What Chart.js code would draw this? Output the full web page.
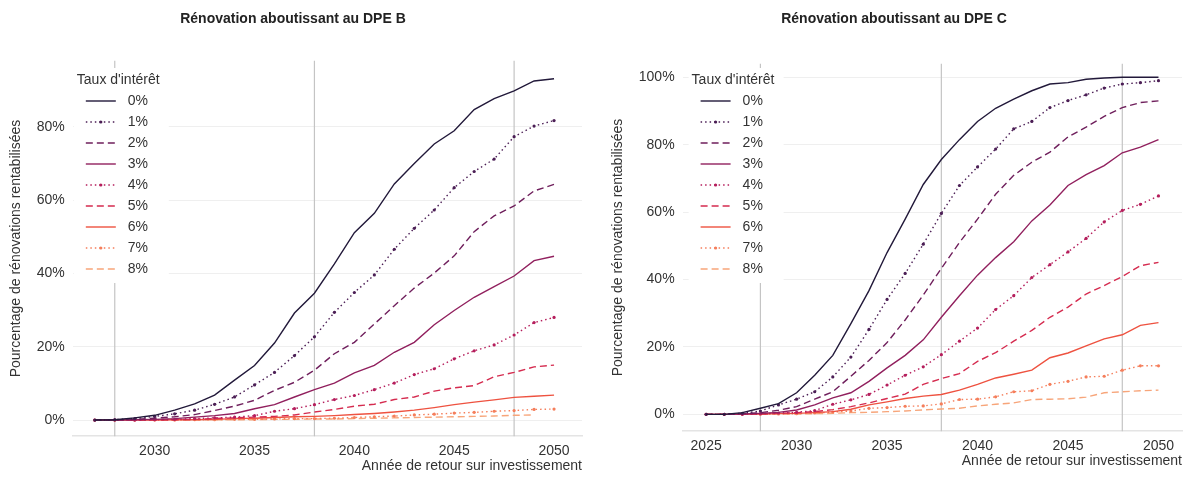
<!DOCTYPE html>
<html><head><meta charset="utf-8">
<script src="https://cdn.jsdelivr.net/npm/chart.js@4"></script>
<style>
body{margin:0;background:#fff;width:1192px;height:479px;position:relative;overflow:hidden;font-family:"Liberation Sans",Arial,sans-serif}
.w{position:absolute;top:0;height:479px}
</style></head><body>
<div class="w" style="left:0;width:596px"><canvas id="c1"></canvas></div>
<div class="w" style="left:598px;width:594px"><canvas id="c2"></canvas></div>
<script>
const labels=["0%","1%","2%","3%","4%","5%","6%","7%","8%"];
const colors=["#22193a","#4b1e55","#6f1f5c","#91205e","#b51e5c","#d52b4f","#ee5240","#f57e5b","#f7a57a"];
const dashes=[[],[1.5,3],[7,4],[],[1.5,3],[7,4],[],[1.5,3],[7,4]];
const dotted=[false,true,false,false,true,false,false,true,false];
const yearsB=[2027,2028,2029,2030,2031,2032,2033,2034,2035,2036,2037,2038,2039,2040,2041,2042,2043,2044,2045,2046,2047,2048,2049,2050];
const dpeB=[
[0,0.1,0.6,1.3,2.7,4.4,6.8,10.9,14.9,21,29.2,34.6,42.6,51.1,56.4,64.4,70,75.3,78.9,84.7,87.7,89.8,92.5,93.1],
[0,0.1,0.4,1,1.7,2.7,4.3,6.3,9.6,13,17.6,22.7,29.4,34.8,39.6,46.6,52.3,57.3,63.4,67.8,71.2,77.3,80.2,81.7],
[0,0,0.2,0.5,0.9,1.5,2.6,3.8,5.4,8.1,10.3,13.6,18.1,21.2,26.2,31.2,36,40.1,44.8,51.4,55.7,58.4,62.5,64.3],
[0,0,0.1,0.2,0.4,0.8,1.2,1.8,3.1,4.2,6.3,8.3,10.1,12.9,14.9,18.5,21.2,26,29.9,33.5,36.4,39.3,43.5,44.7],
[0,0,0,0.1,0.2,0.4,0.6,0.8,1.2,2.4,3.1,4.2,5.6,6.7,8.3,10.1,12.4,14,16.7,18.9,20.5,23.2,26.6,28],
[0,0,0,0,0.1,0.2,0.4,0.6,0.8,1,1.4,2.2,2.9,3.8,4.3,5.6,6.3,7.9,8.8,9.4,11.8,13,14.5,15],
[0,0,0,0,0.1,0.1,0.2,0.4,0.5,0.7,0.9,1,1.2,1.5,1.8,2.2,2.7,3.4,4.2,4.9,5.5,6.2,6.5,6.8],
[0,0,0,0,0,0.1,0.1,0.2,0.2,0.3,0.4,0.4,0.5,0.7,0.9,1.1,1.4,1.6,1.9,2.1,2.4,2.6,2.9,3.0],
[0,0,0,0,0,0,0.1,0.1,0.1,0.2,0.2,0.3,0.3,0.4,0.5,0.6,0.7,0.8,0.9,1.0,1.1,1.3,1.4,null]
];
const yearsC=[2025,2026,2027,2028,2029,2030,2031,2032,2033,2034,2035,2036,2037,2038,2039,2040,2041,2042,2043,2044,2045,2046,2047,2048,2049,2050];
const dpeC=[
[0,0,0.5,1.8,3.2,6.4,11.6,17.5,26.9,36.7,48,57.9,68.2,75.6,81.5,86.9,90.8,93.5,96,98,98.4,99.4,99.8,100,100,100],
[0,0,0.3,1,2.8,4.5,6.7,11.1,17,25.2,34.1,41.8,50.5,59.6,67.9,73.4,78.7,84.7,86.9,91,93.1,94.8,96.8,98,98.4,99],
[0,0,0.2,0.5,1.2,2.3,4.5,6.7,11.3,16,21.3,28,35.4,43.3,51,57.9,65.3,70.9,74.8,77.8,82.3,85.2,88.4,91,92.5,93],
[0,0,0.1,0.3,0.6,1.3,2.8,4.9,6.4,9.8,13.8,17.5,22.1,28.8,35.2,41.3,46.5,51.2,57.4,62.1,67.9,71.1,73.8,77.6,79.3,81.5],
[0,0,0,0.2,0.4,0.6,1.1,3,4.3,5.9,8.7,11.6,14.1,17.7,21.7,25.6,31.1,35.2,40.6,44.4,48.2,52.2,57.1,60.5,62.3,64.8],
[0,0,0,0.1,0.3,0.5,0.8,1.4,2.3,3.4,4.7,6,8.9,10.6,12.1,15.7,18.3,21.7,24.9,28.8,31.8,35.7,38.2,40.9,44.1,45.1],
[0,0,0,0.1,0.2,0.3,0.5,0.8,1.5,2.8,3.7,4.7,5.4,5.9,7.2,8.9,10.8,11.9,13.1,16.8,18.2,20.3,22.4,23.6,26.4,27.2],
[0,0,0,0,0.1,0.2,0.4,0.7,1,1.8,2,2.4,2.5,3.1,4.4,4.5,5.2,6.7,7,8.9,9.8,11.1,11.3,13.1,14.4,14.4],
[0,0,0,0,0.1,0.1,0.2,0.3,0.5,0.6,0.8,1,1.3,1.6,1.8,2.5,3,3.4,4.4,4.5,4.6,5.1,6.4,6.7,7,7.2]
];
const refYears=[2028,2038,2048];

function ds(years,data){
  return data.map((arr,i)=>({label:labels[i],data:years.map((y,k)=>({x:y,y:arr[k]})),
    borderColor:colors[i],backgroundColor:colors[i],borderWidth:1.4,borderDash:dashes[i],
    pointRadius:dotted[i]?1.6:0,pointBorderWidth:0,tension:0,spanGaps:false}));
}
const vlines={id:'vl',beforeDatasetsDraw(c){const {ctx,chartArea:a,scales:{x}}=c;ctx.save();ctx.strokeStyle='#c4c4c4';ctx.lineWidth=1.2;
  refYears.forEach(y=>{const px=x.getPixelForValue(y);ctx.beginPath();ctx.moveTo(px,a.top);ctx.lineTo(px,a.bottom);ctx.stroke();});ctx.restore();}};
const legend={id:'lg',afterDatasetsDraw(c,args,o){const ctx=c.ctx;const a=c.chartArea;ctx.save();
  const x0=a.left+o.dx,y0=o.y;ctx.fillStyle='#fff';ctx.fillRect(x0,y0-12,95,215);
  ctx.font='14px "Liberation Sans",Arial';ctx.fillStyle='#333';ctx.textBaseline='middle';ctx.fillText("Taux d'intérêt",x0+3,y0);
  labels.forEach((l,i)=>{const y=y0+21*(i+1);ctx.strokeStyle=colors[i];ctx.lineWidth=1.4;ctx.setLineDash(dashes[i]);
    ctx.beginPath();ctx.moveTo(x0+12,y);ctx.lineTo(x0+42,y);ctx.stroke();ctx.setLineDash([]);
    if(dotted[i]){ctx.fillStyle=colors[i];ctx.beginPath();ctx.arc(x0+27,y,1.6,0,7);ctx.fill();}
    ctx.fillStyle='#333';ctx.fillText(l,x0+54,y);});ctx.restore();}};
function make(id,title,years,data,xmin,xmax,xt,ymin,ymax,yt,pad,ldx,tpad){
  new Chart(document.getElementById(id),{type:'line',data:{datasets:ds(years,data)},plugins:[vlines,legend],
  options:{responsive:true,maintainAspectRatio:false,animation:false,layout:{padding:pad},
   plugins:{legend:{display:false},tooltip:{enabled:false},lg:{dx:ldx,y:80},
    title:{display:true,text:title,color:'#222',font:{size:14,weight:'bold',family:'"Liberation Sans",Arial'},padding:{top:11,bottom:tpad}}},
   scales:{x:{type:'linear',min:xmin,max:xmax,afterBuildTicks(s){s.ticks=xt.map(v=>({value:v}));},
      grid:{display:false,drawTicks:false},border:{display:true,color:'#e4e4e4',width:1.5},
      ticks:{color:'#333',font:{size:14},padding:7,callback:v=>String(v)},
      title:{display:true,text:'Année de retour sur investissement',align:'end',color:'#333',font:{size:14,lineHeight:1},padding:{top:-8,bottom:0}}},
    y:{min:ymin,max:ymax,afterBuildTicks(s){s.ticks=yt.map(v=>({value:v}));},
      grid:{color:'#efefef',drawTicks:false},border:{display:false},
      ticks:{color:'#333',font:{size:14},padding:8,callback:v=>v+'%'},
      title:{display:true,text:'Pourcentage de rénovations rentabilisées',color:'#333',font:{size:14},padding:{bottom:4}}}}}});
}
make('c1','Rénovation aboutissant au DPE B',yearsB,dpeB,2025.9,2051.4,[2030,2035,2040,2045,2050],-4.4,98,[0,20,40,60,80],{left:4,right:14,bottom:6},1,33);
make('c2','Rénovation aboutissant au DPE C',yearsC,dpeC,2023.7,2051.3,[2025,2030,2035,2040,2045,2050],-5,104,[0,20,40,60,80,100],{left:8,right:10,bottom:11},6,36);
</script></body></html>
